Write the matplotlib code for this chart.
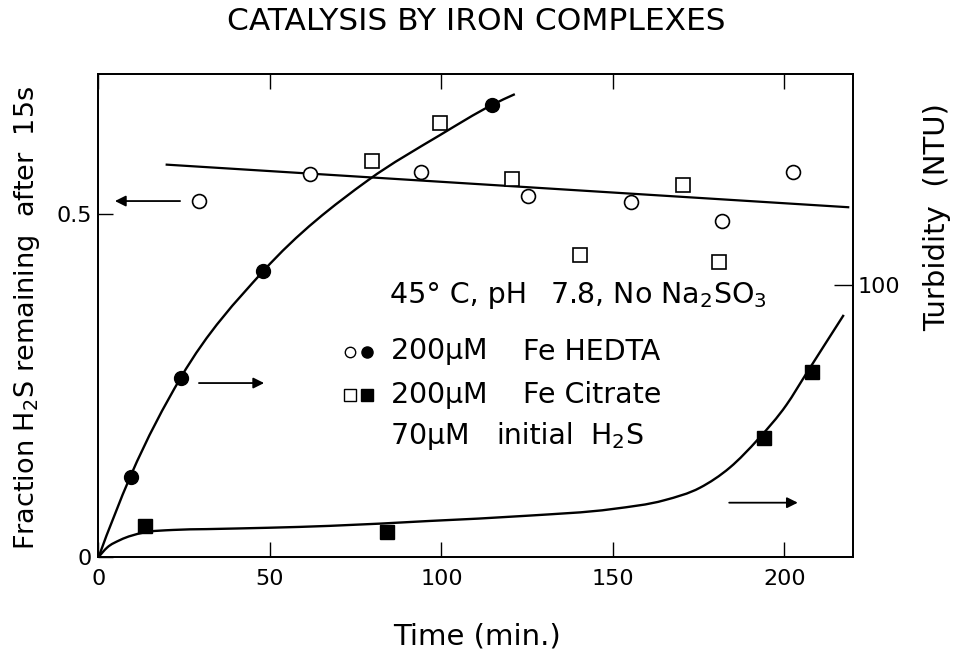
import numpy as np
import matplotlib
matplotlib.use("Agg")
import matplotlib.pyplot as plt
from matplotlib.path import Path
from matplotlib.patches import PathPatch

plt.rcParams['font.family'] = ['DejaVu Sans']
plt.rcParams['mathtext.fontset'] = 'dejavusans'
plt.rcParams['mathtext.default'] = 'regular'

# ---- data -------------------------------------------------------------
# Fraction of H2S remaining after 15 s (left axis, open symbols)
hedta_t_frac = [29.4, 61.7, 94.0, 125.1, 155.2, 181.7, 202.4]
hedta_frac = [0.519, 0.558, 0.562, 0.527, 0.517, 0.490, 0.561]
citrate_t_frac = [79.7, 99.6, 120.5, 140.4, 170.3, 180.8]
citrate_frac = [0.578, 0.633, 0.551, 0.440, 0.543, 0.430]

# straight fitted line through the fraction data
fit_t = [19.9, 218.6]
fit_frac = [0.572, 0.510]

# Turbidity in NTU (right axis, filled symbols)
hedta_t_ntu = [9.4, 24.0, 48.0, 114.7]
hedta_ntu = [29.5, 65.9, 105.1, 166.1]
citrate_t_ntu = [13.6, 84.0, 194.0, 208.0]
citrate_ntu = [11.6, 9.5, 44.0, 68.0]

# hand-drawn turbidity curves (knots along each curve)
hedta_curve_t = [0.0, 9.4, 24.0, 48.0, 78.7, 99.6, 114.7, 121.4]
hedta_curve_ntu = [0.0, 30.0, 66.0, 105.0, 138.5, 155.0, 166.0, 170.0]
citrate_curve_t = [0.0, 2.5, 6.3, 13.0, 21.8, 31.5, 49.5, 67.5, 96.6, 124.8,
                   150.0, 165.0, 175.4, 184.1, 192.4, 200.6, 206.4, 217.3]
citrate_curve_ntu = [0.0, 3.6, 6.4, 9.1, 10.1, 10.4, 10.9, 11.6, 13.4, 15.3,
                     17.8, 21.0, 25.6, 33.0, 43.5, 56.0, 67.5, 89.0]

x_ticks = [0, 50, 100, 150, 200]
left_ticks = [0, 0.5]
left_tick_labels = ['0', '0.5']
right_ticks = [100]


def smooth_path(xs, ys):
    """Piecewise cubic Hermite curve through the knots, as Bezier segments."""
    x = np.asarray(xs, float)
    y = np.asarray(ys, float)
    h = np.diff(x)
    d = np.diff(y) / h
    m = np.empty_like(x)
    m[1:-1] = (d[:-1] * h[1:] + d[1:] * h[:-1]) / (h[:-1] + h[1:])
    m[0] = 2 * d[0] - m[1]
    m[-1] = 2 * d[-1] - m[-2]
    verts = [(x[0], y[0])]
    codes = [Path.MOVETO]
    for i in range(len(h)):
        verts += [(x[i] + h[i] / 3, y[i] + m[i] * h[i] / 3),
                  (x[i + 1] - h[i] / 3, y[i + 1] - m[i + 1] * h[i] / 3),
                  (x[i + 1], y[i + 1])]
        codes += [Path.CURVE4] * 3
    return Path(verts, codes)


fig = plt.figure(figsize=(9.55, 6.56), dpi=100)
ax = fig.add_axes([0.1031, 0.1502, 0.7901, 0.7370])
ax2 = ax.twinx()

ax.set_xlim(0, 220)
ax.set_ylim(0, 0.704)
ax2.set_ylim(0, 177.4)

for a in (ax, ax2):
    for s in a.spines.values():
        s.set_linewidth(1.3)
        s.set_color('black')

# left axis data
ax.plot(fit_t, fit_frac, color='black', lw=1.6, zorder=2)
ax.plot(hedta_t_frac, hedta_frac, 'o', ms=10, mfc='white', mec='black',
        mew=1.2, zorder=3)
ax.plot(citrate_t_frac, citrate_frac, 's', ms=10, mfc='white', mec='black',
        mew=1.2, zorder=3)

# right axis data
ax2.add_patch(PathPatch(smooth_path(hedta_curve_t, hedta_curve_ntu),
                        fill=False, lw=1.7, ec='black', zorder=2))
ax2.add_patch(PathPatch(smooth_path(citrate_curve_t, citrate_curve_ntu),
                        fill=False, lw=1.7, ec='black', zorder=2))
ax2.plot(hedta_t_ntu, hedta_ntu, 'o', ms=10, color='black', zorder=3)
ax2.plot(citrate_t_ntu, citrate_ntu, 's', ms=10, color='black', zorder=3)

# ticks
ax.set_xticks(x_ticks)
ax.set_xticklabels([str(v) for v in x_ticks])
ax.set_yticks(left_ticks)
ax.set_yticklabels(left_tick_labels)
ax.tick_params(axis='x', direction='in', length=11, width=1.0, labelsize=16,
               pad=8, top=True)
ax.tick_params(axis='y', direction='in', length=11, width=1.0, labelsize=16,
               pad=5)
ax2.set_yticks(right_ticks)
ax2.set_yticklabels([str(v) for v in right_ticks])
ax2.tick_params(axis='y', direction='in', length=14, width=1.0, labelsize=16,
                pad=3)

# arrows pointing to the relevant axis
arrow = dict(arrowstyle='-|>', lw=1.3, color='black', mutation_scale=16,
             shrinkA=0, shrinkB=0)
ax.annotate('', xy=(4.8, 0.519), xytext=(23.8, 0.519), arrowprops=arrow)
ax2.annotate('', xy=(48.3, 64.0), xytext=(29.3, 64.0), arrowprops=arrow)
ax2.annotate('', xy=(203.9, 20.1), xytext=(183.9, 20.1), arrowprops=arrow)

# annotation block
fs = 20.5


def note(x, y, s):
    ax.text(x, y, s, transform=ax.transAxes, fontsize=fs, va='center',
            ha='left')


note(0.386, 0.543, '45° C, pH')
note(0.598, 0.543, r'7.8, No Na$_2$SO$_3$')
note(0.386, 0.425, r'200$\mu$M')
note(0.5626, 0.425, 'Fe HEDTA')
note(0.386, 0.336, r'200$\mu$M')
note(0.5626, 0.336, 'Fe Citrate')
note(0.386, 0.251, r'70$\mu$M')
note(0.528, 0.251, 'initial')
note(0.652, 0.251, r'H$_2$S')

# key symbols beside the annotation lines
ax.plot([0.333], [0.425], 'o', ms=7.5, mfc='white', mec='black', mew=1.0,
        transform=ax.transAxes, clip_on=False)
ax.plot([0.356], [0.425], 'o', ms=8, color='black',
        transform=ax.transAxes, clip_on=False)
ax.plot([0.333], [0.336], 's', ms=8, mfc='white', mec='black', mew=1.0,
        transform=ax.transAxes, clip_on=False)
ax.plot([0.356], [0.336], 's', ms=8.5, color='black',
        transform=ax.transAxes, clip_on=False)

# titles and axis labels
fig.text(476 / 955, 1 - 22 / 656, 'CATALYSIS BY IRON COMPLEXES',
         fontsize=22.5, ha='center', va='center')
fig.text(477 / 955, 1 - 637 / 656, 'Time (min.)', fontsize=21,
         ha='center', va='center')
fig.text(27 / 955, 1 - 318 / 656, r'Fraction H$_2$S remaining  after  15s',
         fontsize=19.5, rotation=90, ha='center', va='center')
fig.text(937 / 955, 1 - 217 / 656, 'Turbidity  (NTU)', fontsize=21,
         rotation=90, ha='center', va='center')

fig.savefig('out.png', dpi=100)
